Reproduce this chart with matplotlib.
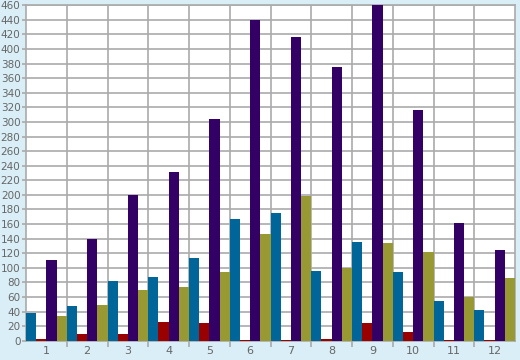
import numpy as np
import matplotlib
matplotlib.use('Agg')
import matplotlib.pyplot as plt

categories = ['1', '2', '3', '4', '5', '6', '7', '8', '9', '10', '11', '12']
blue = [38, 47, 82, 88, 113, 167, 175, 95, 135, 94, 54, 42]
red = [2, 9, 9, 25, 24, 1, 1, 2, 24, 12, 1, 1]
purple = [110, 139, 200, 231, 304, 440, 416, 376, 470, 316, 162, 124]
olive = [34, 49, 69, 73, 94, 147, 198, 100, 134, 121, 60, 86]

series = [blue, red, purple, olive]
colours = ['#006699', '#990000', '#330066', '#999933']

bg = '#d9eef6'
gridcol = '#aaaaaa'
textcol = '#666666'

fig = plt.figure(figsize=(5.2, 3.6), dpi=100, facecolor=bg)
ax = fig.add_axes([26 / 520, 19.3 / 360, 489 / 520, 335.4 / 360])
ax.set_facecolor('white')

x = np.arange(len(categories))
w = 0.25
for k, (vals, col) in enumerate(zip(series, colours)):
    ax.bar(x + (k - 1.5) * w, vals, width=w, color=col, linewidth=0, zorder=3)

ax.set_xlim(-0.5, len(categories) - 0.5)
ax.set_ylim(0, 460)

ax.set_yticks(np.arange(0, 461, 20))
ax.set_xticks(x)
ax.set_xticklabels(categories)
ax.set_xticks(np.arange(0.5, len(categories) - 0.5, 1), minor=True)

ax.grid(True, axis='y', color=gridcol, linewidth=1.2, zorder=0)
ax.grid(True, axis='x', which='minor', color=gridcol, linewidth=1.2, zorder=0)
ax.set_axisbelow(True)

ax.tick_params(axis='x', which='major', length=0, pad=4, labelsize=8, labelcolor=textcol)
ax.tick_params(axis='x', which='minor', length=4, color=gridcol, width=1.2, direction='out')
ax.tick_params(axis='y', length=3, color=gridcol, width=1.2, pad=1, labelsize=7.5, labelcolor=textcol)

for s in ax.spines.values():
    s.set_color(gridcol)
    s.set_linewidth(1.2)

fig.savefig('out.png', dpi=100, facecolor=bg)
